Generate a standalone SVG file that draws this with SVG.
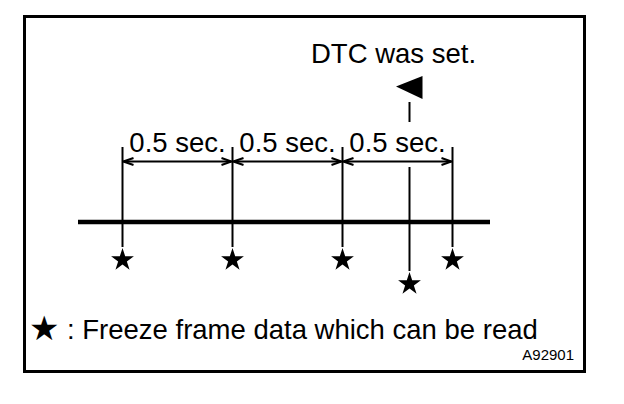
<svg xmlns="http://www.w3.org/2000/svg" width="624" height="404" viewBox="0 0 624 404">
<style>
  .t { font-family: "Liberation Sans", Arial, sans-serif; fill: #000; }
  .big { font-size: 27.5px; }
  .thin { stroke: #000; stroke-width: 2; fill: none; }
  .star { fill: #000; }
</style>
<defs>
  <marker id="arr" viewBox="-12 -5 13 10" markerWidth="13" markerHeight="10" refX="0" refY="0" orient="auto-start-reverse" markerUnits="userSpaceOnUse">
    <path d="M-10,-3.5 L0,0 L-10,3.5" fill="none" stroke="#000" stroke-width="2"/>
  </marker>
  <polygon id="st" points="0,-12 2.69,-3.71 11.41,-3.71 4.36,1.42 7.05,9.71 0,4.59 -7.05,9.71 -4.36,1.42 -11.41,-3.71 -2.69,-3.71"/>
</defs>
<rect x="24.5" y="16.5" width="560" height="355" fill="#fff" stroke="#000" stroke-width="3"/>

<g id="timeline">
  <line x1="78" y1="222" x2="490" y2="222" stroke="#000" stroke-width="4.5"/>
</g>

<g id="connectors">
  <line class="thin" x1="122.5" y1="147" x2="122.5" y2="247"/>
  <line class="thin" x1="232.5" y1="147" x2="232.5" y2="247"/>
  <line class="thin" x1="342.5" y1="147" x2="342.5" y2="247"/>
  <line class="thin" x1="452.5" y1="147" x2="452.5" y2="247"/>
  <line class="thin" x1="409.5" y1="102" x2="409.5" y2="122"/>
  <line class="thin" x1="409.5" y1="167" x2="409.5" y2="271"/>
  <line class="thin" x1="123.5" y1="161.5" x2="231.5" y2="161.5" marker-start="url(#arr)" marker-end="url(#arr)"/>
  <line class="thin" x1="233.5" y1="161.5" x2="341.5" y2="161.5" marker-start="url(#arr)" marker-end="url(#arr)"/>
  <line class="thin" x1="343.5" y1="161.5" x2="451.5" y2="161.5" marker-start="url(#arr)" marker-end="url(#arr)"/>
</g>

<g id="flag">
  <polygon points="396,86.5 422.5,76 422.5,99" fill="#000"/>
  <text class="t big" x="311" y="63">DTC was set.</text>
</g>

<g id="labels">
  <text class="t big" x="177.5" y="152" text-anchor="middle">0.5 sec.</text>
  <text class="t big" x="287.5" y="152" text-anchor="middle">0.5 sec.</text>
  <text class="t big" x="397.5" y="152" text-anchor="middle">0.5 sec.</text>
</g>

<g id="stars">
  <use href="#st" class="star" x="122.5" y="260"/>
  <use href="#st" class="star" x="232.5" y="260"/>
  <use href="#st" class="star" x="342.5" y="260"/>
  <use href="#st" class="star" x="452.5" y="260"/>
  <use href="#st" class="star" x="409.5" y="284"/>
</g>

<g id="legend">
  <text class="t big" y="339"><tspan x="29" y="340" style="font-family:'DejaVu Sans',sans-serif;font-size:34px">★</tspan><tspan x="67" y="339">: Freeze frame data which can be read</tspan></text>
  <text class="t" x="574" y="360" text-anchor="end" font-size="15">A92901</text>
</g>
</svg>
